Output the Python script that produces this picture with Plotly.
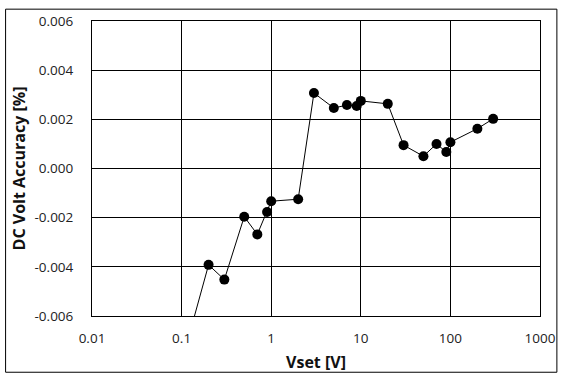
import plotly.graph_objects as go

# Data
vset = [0.1, 0.2, 0.3, 0.5, 0.7, 0.9, 1, 2, 3, 5, 7, 9, 10, 20, 30, 50, 70, 90, 100, 200, 300]
accuracy = [-0.0079, -0.00392, -0.00452, -0.00196, -0.00268, -0.00177, -0.00133, -0.00125,
            0.00307, 0.00246, 0.00258, 0.00254, 0.00275, 0.00263, 0.00095, 0.00050,
            0.00100, 0.00067, 0.00107, 0.00162, 0.00202]

x_tickvals = [0.01, 0.1, 1, 10, 100, 1000]
x_ticktext = ["0.01", "0.1", "1", "10", "100", "1000"]
y_tickvals = [-0.006, -0.004, -0.002, 0.0, 0.002, 0.004, 0.006]
y_ticktext = ["-0.006", "-0.004", "-0.002", "0.000", "0.002", "0.004", "0.006"]

FONT = "Open Sans, Noto Sans, sans-serif"

fig = go.Figure()
fig.add_trace(go.Scatter(
    x=vset, y=accuracy, mode="lines+markers",
    line=dict(color="black", width=1),
    marker=dict(color="black", size=10),
    cliponaxis=True, showlegend=False,
))

W, H = 568, 380
L, R, T, B = 92, 25, 17, 64
pw, ph = W - L - R, H - T - B

fig.update_layout(
    width=W, height=H,
    margin=dict(l=L, r=R, t=T, b=B),
    paper_bgcolor="white", plot_bgcolor="white",
    font=dict(family=FONT, color="#222"),
    xaxis=dict(
        type="log", range=[-2, 3],
        tickvals=x_tickvals, ticktext=x_ticktext,
        showgrid=True, gridcolor="black", gridwidth=1,
        showline=True, linecolor="black", linewidth=1, mirror=True,
        ticks="", ticklabelstandoff=10,
        tickfont=dict(size=13.5, color="#222"),
        title=dict(text="Vset [V]", font=dict(size=16, color="#111", weight="bold"), standoff=10),
        zeroline=False,
    ),
    yaxis=dict(
        range=[-0.006, 0.006],
        tickvals=y_tickvals, ticktext=y_ticktext,
        showgrid=True, gridcolor="black", gridwidth=1,
        showline=True, linecolor="black", linewidth=1, mirror=True,
        ticks="", ticklabelstandoff=15,
        tickfont=dict(size=13.5, color="#222"),
        title=dict(text="DC Volt Accuracy [%]", font=dict(size=16, color="#111", weight="bold"), standoff=4),
        zeroline=False,
    ),
    shapes=[dict(
        type="rect", xref="paper", yref="paper",
        x0=(5 - L) / pw, x1=(560 - L) / pw,
        y0=-(373 - (H - B)) / ph, y1=1 + (T - 5) / ph,
        line=dict(color="black", width=1), fillcolor="rgba(0,0,0,0)", layer="below",
    )],
)

fig.write_html("out.html", config={"displayModeBar": False},
               post_script="document.body.style.margin='0';")
